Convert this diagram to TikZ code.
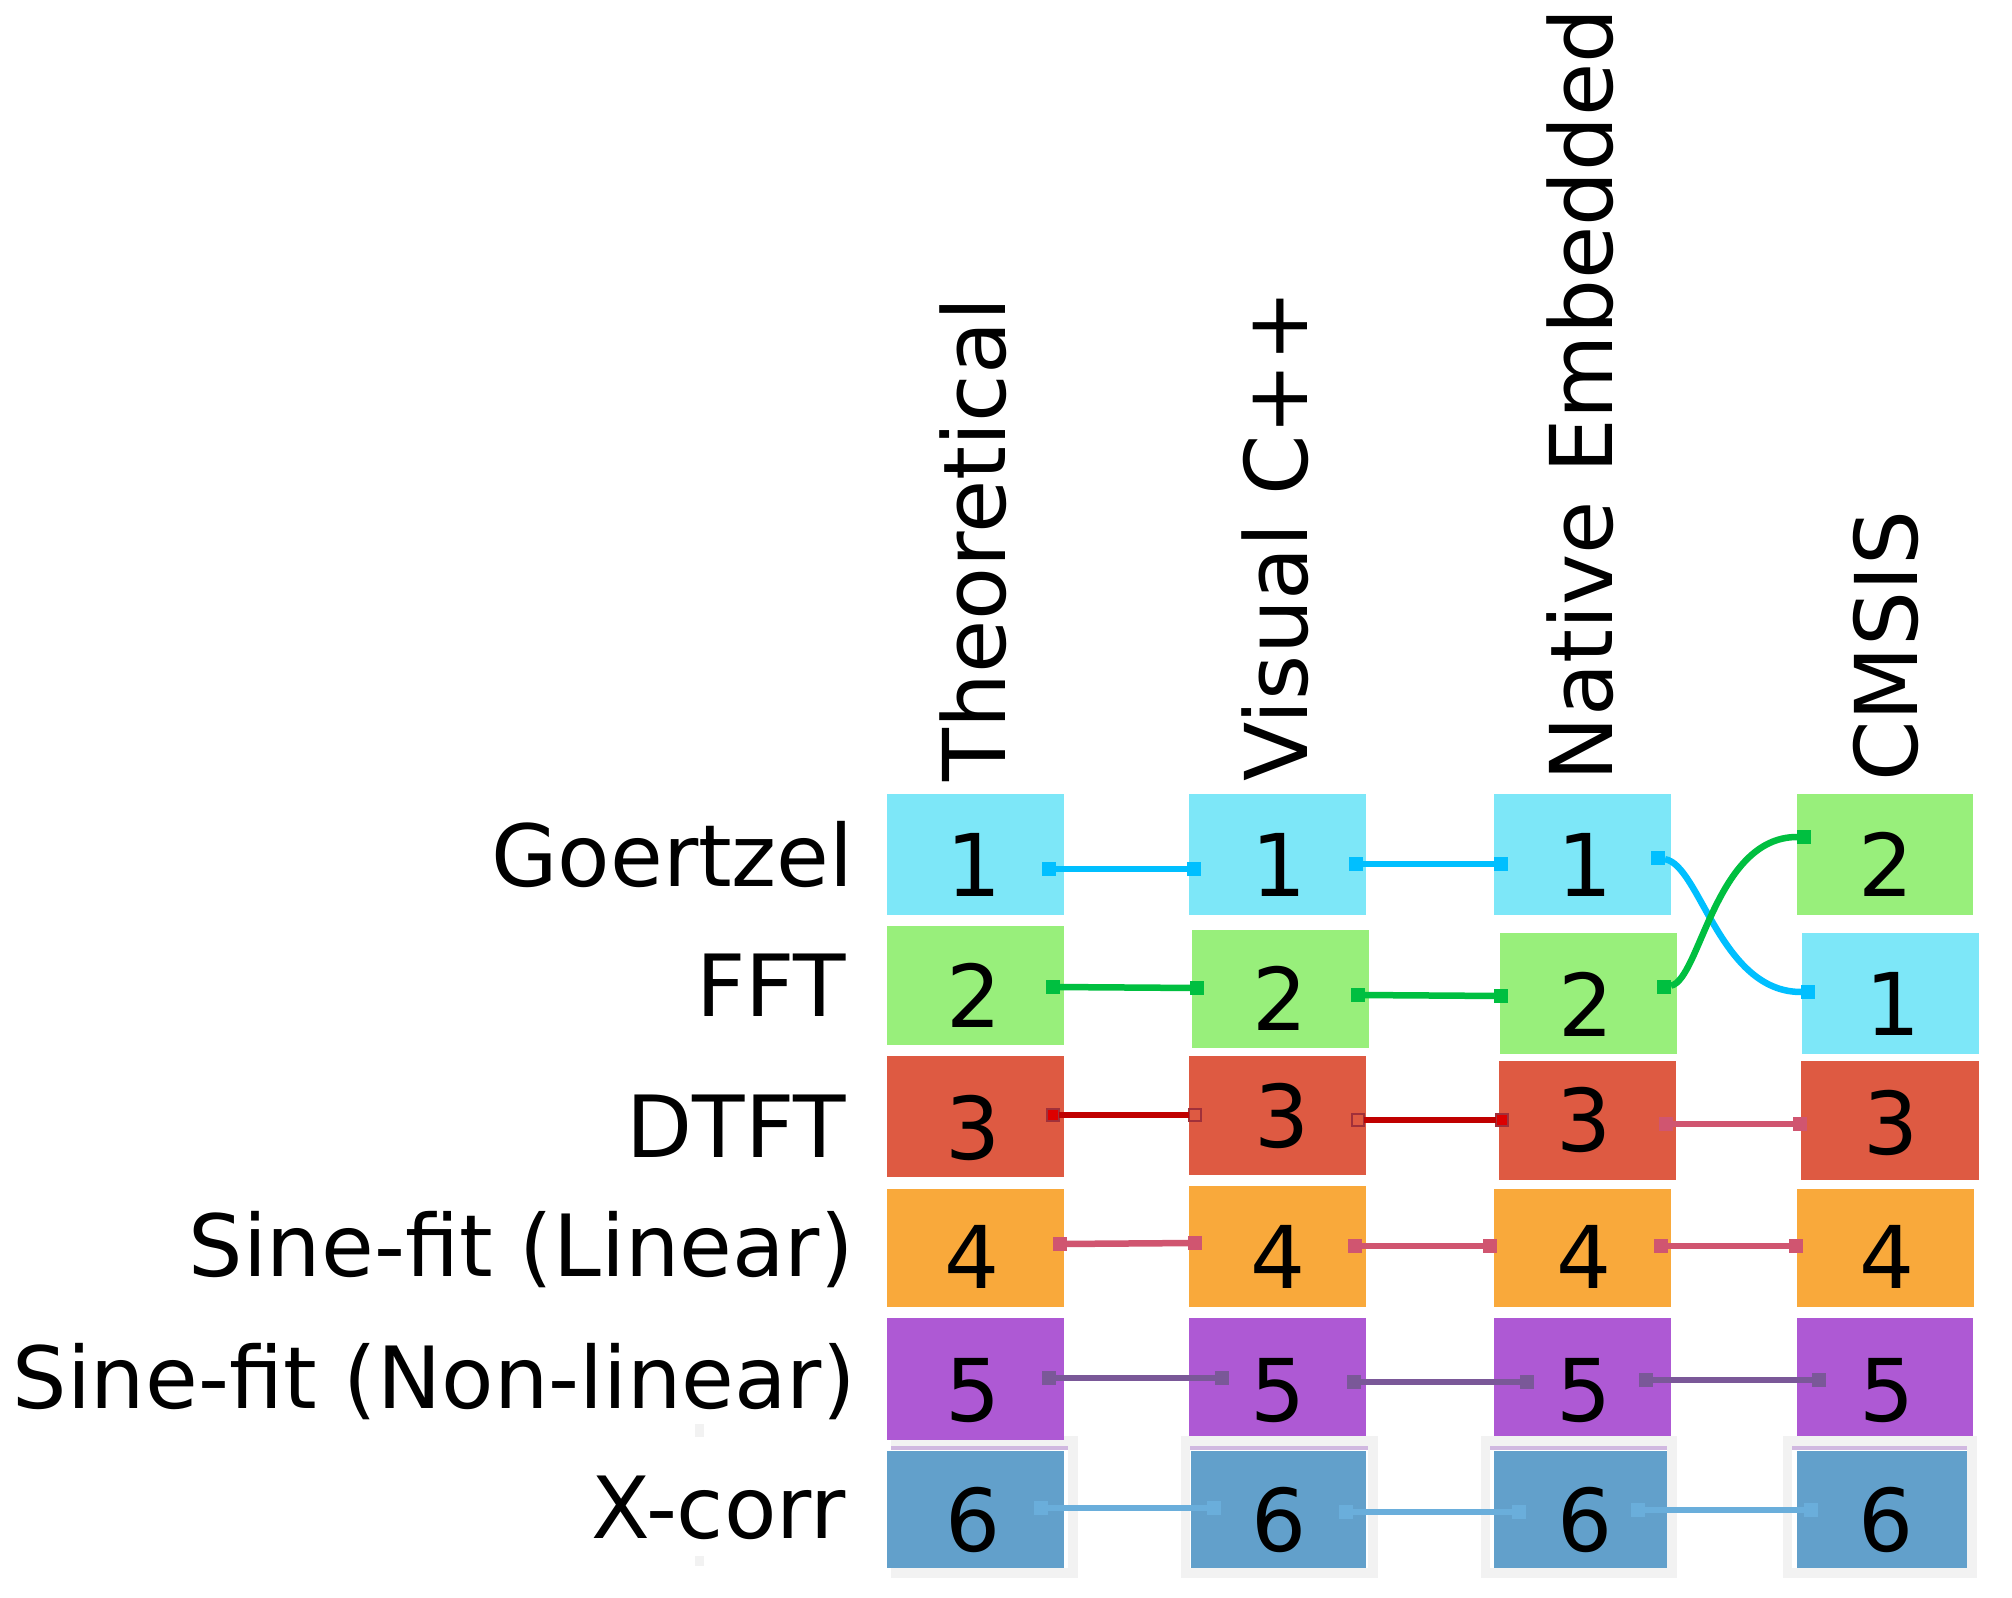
\documentclass[tikz,border=0pt]{standalone}
\usepackage{fontspec}
\setmainfont{DejaVu Sans}
\usetikzlibrary{fit}
\definecolor{cyanbox}{HTML}{7DE7F8}
\definecolor{cyanline}{HTML}{00BFFF}
\definecolor{greenbox}{HTML}{98EF7B}
\definecolor{greenline}{HTML}{00BF40}
\definecolor{redbox}{HTML}{DE5A42}
\definecolor{redline}{HTML}{C00000}
\definecolor{redmark}{HTML}{DD0000}
\definecolor{rededge}{HTML}{A0303A}
\definecolor{orangebox}{HTML}{F9A93B}
\definecolor{pinkline}{HTML}{D05570}
\definecolor{purplebox}{HTML}{AE59D4}
\definecolor{purpleline}{HTML}{7A5898}
\definecolor{bluebox}{HTML}{62A0CB}
\definecolor{blueline}{HTML}{6AAEDB}
\definecolor{framegray}{HTML}{F2F2F2}
\definecolor{lavender}{HTML}{D0B8E0}
\tikzset{
  cell/.style={rectangle, inner sep=0pt, outer sep=0pt},
  rank/.style={inner sep=0pt, anchor=base, font=\fontsize{43.3}{52}\selectfont},
  method/.style={inner sep=0pt, anchor=base east, font=\fontsize{42.9}{52}\selectfont},
  impl/.style={inner sep=0pt, anchor=base west, rotate=90, font=\fontsize{43.3}{52}\selectfont},
  dot/.style={rectangle, inner sep=0pt, outer sep=0pt, minimum size=7pt, fill=#1},
  reddot/.style={rectangle, inner sep=0pt, outer sep=0pt, minimum size=6pt, fill=redmark, draw=rededge, line width=0.8pt},
  hollowdot/.style={rectangle, inner sep=0pt, outer sep=0pt, minimum size=6pt, draw=rededge, line width=0.8pt},
  link/.style={line width=3.25pt, #1}
}
\begin{document}
\begin{tikzpicture}[x=0.5pt, y=-0.5pt]
\path[fill=white, use as bounding box] (0,0) rectangle (2012,1598);

% frames round the last row
\foreach \xa/\xb/\ia/\ib in {891/1078/891/1068, 1181/1378/1190/1368, 1481/1677/1490/1667, 1783/1977/1792/1967}
  {
    \fill[framegray] (\xa,1436) rectangle (\xb,1578);
    \fill[white] (\ia,1446) rectangle (\ib,1568);
    \fill[lavender] (\ia,1446) rectangle (\ib,1450);
  }
\fill[framegray] (695,1424) rectangle (704,1437);
\fill[framegray] (695,1556) rectangle (704,1566);

% ranked cells
\foreach \id/\xa/\ya/\xb/\yb/\col in {
  t1/887/794/1064/915/cyanbox, v1/1189/794/1366/915/cyanbox, n1/1494/794/1671/915/cyanbox, c1/1797/794/1973/915/greenbox,
  t2/887/926/1064/1045/greenbox, v2/1192/930/1369/1048/greenbox, n2/1500/933/1677/1054/greenbox, c2/1802/933/1979/1054/cyanbox,
  t3/887/1056/1064/1177/redbox, v3/1189/1056/1366/1175/redbox, n3/1499/1061/1676/1180/redbox, c3/1801/1061/1979/1180/redbox,
  t4/887/1189/1064/1307/orangebox, v4/1189/1186/1366/1307/orangebox, n4/1494/1189/1671/1307/orangebox, c4/1797/1189/1974/1307/orangebox,
  t5/887/1318/1064/1440/purplebox, v5/1189/1318/1366/1436/purplebox, n5/1494/1318/1671/1436/purplebox, c5/1797/1318/1973/1436/purplebox,
  t6/887/1451/1064/1568/bluebox, v6/1191/1451/1366/1568/bluebox, n6/1494/1451/1667/1568/bluebox, c6/1797/1451/1967/1568/bluebox}
  \node[cell, fill=\col, fit={(\xa,\ya) (\xb,\yb)}] (\id) {};

\foreach \id/\x/\y/\rk in {
  t1/974/896/1, v1/1279/896/1, n1/1585/896/1, c1/1886/896/2,
  t2/974/1027/2, v2/1280/1030/2, n2/1586/1036/2, c2/1893/1035/1,
  t3/973/1159/3, v3/1282/1147/3, n3/1584/1151/3, c3/1891/1154/3,
  t4/972/1288/4, v4/1278/1288/4, n4/1584/1288/4, c4/1887/1288/4,
  t5/973/1421/5, v5/1278/1421/5, n5/1584/1421/5, c5/1887/1421/5,
  t6/973/1551/6, v6/1279/1551/6, n6/1585/1551/6, c6/1886/1551/6}
  \node[rank] (d\id) at (\x,\y) {\rk};

% methods and implementations
\node[method] (goertzel) at (854,886) {Goertzel};
\node[method] (fft) at (846,1016) {FFT};
\node[method] (dtft) at (846,1157) {DTFT};
\node[method] (linear) at (854,1276) {Sine-fit (Linear)};
\node[method] (nonlinear) at (856,1408) {Sine-fit (Non-linear)};
\node[method] (xcorr) at (846,1538) {X-corr};

\node[impl] (theoretical) at (1005,782) {Theoretical};
\node[impl] (visual) at (1307,782) {Visual C++};
\node[impl] (native) at (1612,782) {Native Embedded};
\node[impl] (cmsis) at (1917,782) {CMSIS};

% end markers
\foreach \id/\x/\y/\col in {
  g1/1049/869/cyanline, g2/1194/869/cyanline, g3/1356/864/cyanline, g4/1501/864/cyanline, g5/1658/858/cyanline, g6/1808/992/cyanline,
  f1/1053/987/greenline, f2/1197/988/greenline, f3/1358/995/greenline, f4/1501/996/greenline, f5/1664/987/greenline, f6/1804/837/greenline,
  p5/1666/1124/pinkline, p6/1800/1124/pinkline,
  s1/1060/1244/pinkline, s2/1195/1243/pinkline, s3/1355/1246/pinkline, s4/1490/1246/pinkline, s5/1661/1246/pinkline, s6/1796/1246/pinkline,
  q1/1049/1378/purpleline, q2/1222/1378/purpleline, q3/1354/1382/purpleline, q4/1527/1382/purpleline, q5/1646/1380/purpleline, q6/1819/1380/purpleline,
  x1/1041/1508/blueline, x2/1214/1508/blueline, x3/1346/1512/blueline, x4/1519/1512/blueline, x5/1638/1510/blueline, x6/1811/1510/blueline}
  \node[dot=\col] (\id) at (\x,\y) {};
\node[reddot] (r1) at (1053,1115) {};
\node[hollowdot] (r2) at (1195,1115) {};
\node[hollowdot] (r3) at (1358,1120) {};
\node[reddot] (r4) at (1502,1120) {};

% links
\foreach \a/\b/\col in {g1/g2/cyanline, g3/g4/cyanline, f1/f2/greenline, f3/f4/greenline,
  r1/r2/redline, r3/r4/redline, p5/p6/pinkline,
  s1/s2/pinkline, s3/s4/pinkline, s5/s6/pinkline,
  q1/q2/purpleline, q3/q4/purpleline, q5/q6/purpleline,
  x1/x2/blueline, x3/x4/blueline, x5/x6/blueline}
  \draw[link=\col] (\a) -- (\b);
\draw[link=cyanline] (g5) .. controls (1700,865) and (1720,992) .. (g6);
\draw[link=greenline] (f5) .. controls (1700,980) and (1715,837) .. (f6);
\end{tikzpicture}
\end{document}
